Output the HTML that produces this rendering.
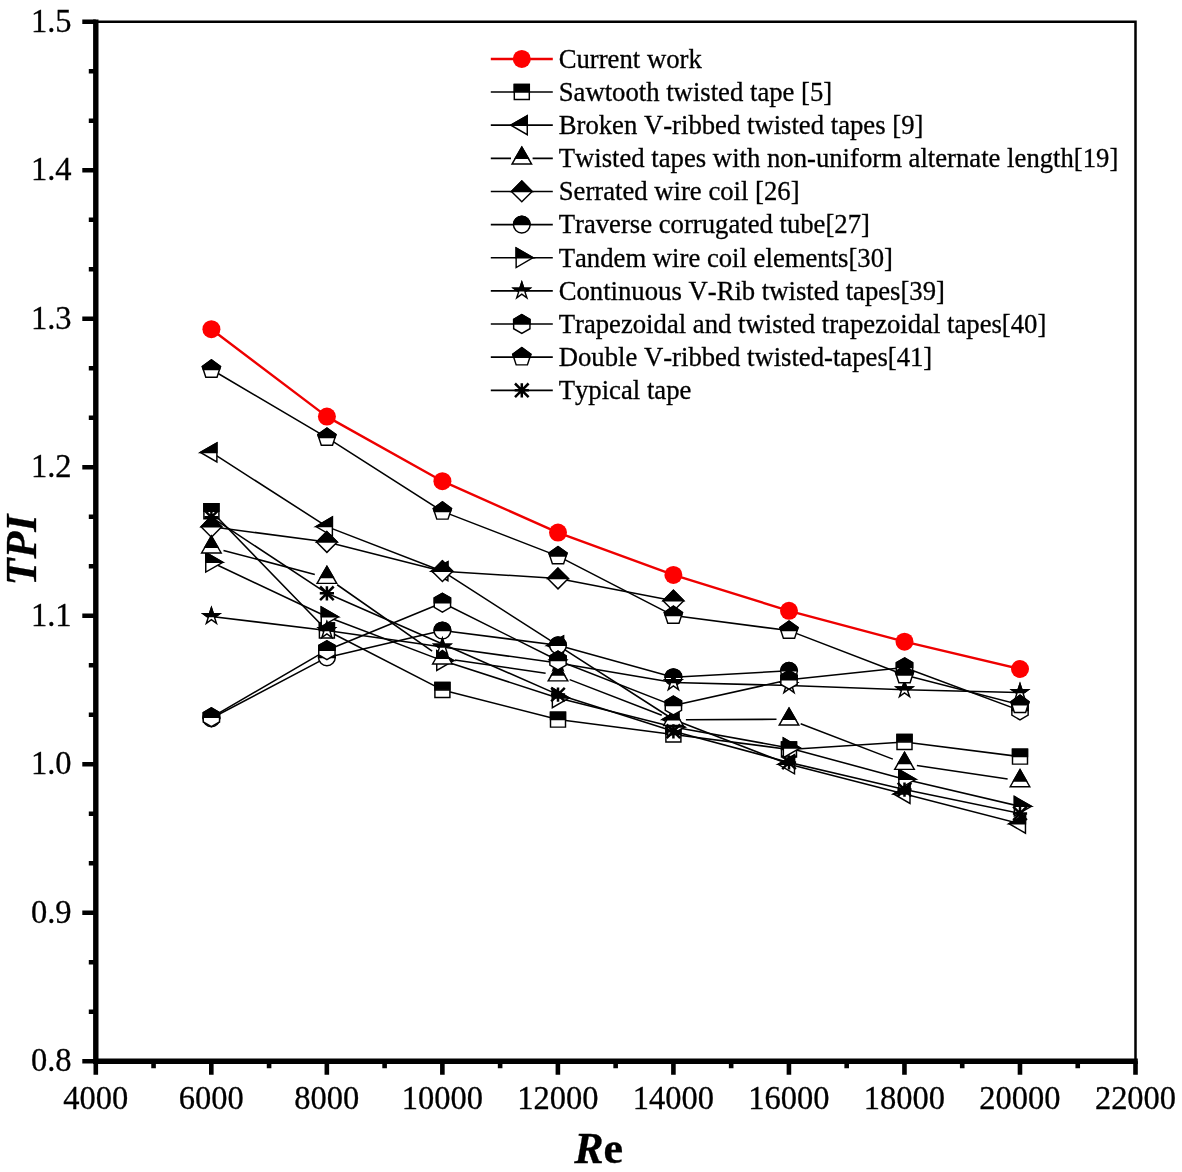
<!DOCTYPE html>
<html lang="en"><head><meta charset="utf-8"><title>TPI vs Re</title>
<style>html,body{margin:0;padding:0;background:#fff;overflow:hidden}svg{display:block;will-change:transform}text{font-kerning:none;stroke:#000;stroke-width:0.3px;paint-order:stroke fill;font-family:"Liberation Serif","Times New Roman",serif;fill:#000}</style>
</head><body>
<svg width="1182" height="1172" viewBox="0 0 1182 1172">
<rect width="1182" height="1172" fill="#fff"/>
<g id="series">
<g>
<polyline points="211.4,329.2 326.9,416.6 442.4,481.2 558,532.6 673.4,574.9 789,610.8 904.5,641.7 1020,669" fill="none" stroke="#ee0000" stroke-width="2.4" stroke-linejoin="round"/>
<circle cx="211.4" cy="329.2" r="9.0" fill="#fe0000"/>
<circle cx="326.9" cy="416.6" r="9.0" fill="#fe0000"/>
<circle cx="442.4" cy="481.2" r="9.0" fill="#fe0000"/>
<circle cx="558" cy="532.6" r="9.0" fill="#fe0000"/>
<circle cx="673.4" cy="574.9" r="9.0" fill="#fe0000"/>
<circle cx="789" cy="610.8" r="9.0" fill="#fe0000"/>
<circle cx="904.5" cy="641.7" r="9.0" fill="#fe0000"/>
<circle cx="1020" cy="669" r="9.0" fill="#fe0000"/>
</g>
<g>
<polyline points="211.4,511.3 326.9,630.5 442.4,689.9 558,719.6 673.4,734.4 789,749.4 904.5,741.9 1020,756.6" fill="none" stroke="#000" stroke-width="1.55" stroke-linejoin="round"/>
<polygon points="203.9,503.8 218.9,503.8 218.9,518.8 203.9,518.8" fill="#fff" stroke="#000" stroke-width="1.45"/>
<polygon points="203.9,503.8 218.9,503.8 218.9,511.3 203.9,511.3" fill="#000" stroke="#000" stroke-width="1.45"/>
<polygon points="319.4,623 334.4,623 334.4,638 319.4,638" fill="#fff" stroke="#000" stroke-width="1.45"/>
<polygon points="319.4,623 334.4,623 334.4,630.5 319.4,630.5" fill="#000" stroke="#000" stroke-width="1.45"/>
<polygon points="434.9,682.4 449.9,682.4 449.9,697.4 434.9,697.4" fill="#fff" stroke="#000" stroke-width="1.45"/>
<polygon points="434.9,682.4 449.9,682.4 449.9,689.9 434.9,689.9" fill="#000" stroke="#000" stroke-width="1.45"/>
<polygon points="550.5,712.1 565.5,712.1 565.5,727.1 550.5,727.1" fill="#fff" stroke="#000" stroke-width="1.45"/>
<polygon points="550.5,712.1 565.5,712.1 565.5,719.6 550.5,719.6" fill="#000" stroke="#000" stroke-width="1.45"/>
<polygon points="665.9,726.9 680.9,726.9 680.9,741.9 665.9,741.9" fill="#fff" stroke="#000" stroke-width="1.45"/>
<polygon points="665.9,726.9 680.9,726.9 680.9,734.4 665.9,734.4" fill="#000" stroke="#000" stroke-width="1.45"/>
<polygon points="781.5,741.9 796.5,741.9 796.5,756.9 781.5,756.9" fill="#fff" stroke="#000" stroke-width="1.45"/>
<polygon points="781.5,741.9 796.5,741.9 796.5,749.4 781.5,749.4" fill="#000" stroke="#000" stroke-width="1.45"/>
<polygon points="897,734.4 912,734.4 912,749.4 897,749.4" fill="#fff" stroke="#000" stroke-width="1.45"/>
<polygon points="897,734.4 912,734.4 912,741.9 897,741.9" fill="#000" stroke="#000" stroke-width="1.45"/>
<polygon points="1012.5,749.1 1027.5,749.1 1027.5,764.1 1012.5,764.1" fill="#fff" stroke="#000" stroke-width="1.45"/>
<polygon points="1012.5,749.1 1027.5,749.1 1027.5,756.6 1012.5,756.6" fill="#000" stroke="#000" stroke-width="1.45"/>
</g>
<g>
<polyline points="211.4,452.4 326.9,526.6 442.4,571.2 558,645.4 673.4,719.5 789,764.3 904.5,794 1020,823.7" fill="none" stroke="#000" stroke-width="1.55" stroke-linejoin="round"/>
<polygon points="200.45,452.4 216.88,442.92 216.88,461.88" fill="#fff" stroke="#000" stroke-width="1.45"/>
<polygon points="200.45,452.4 216.88,442.92 216.88,452.4 200.45,452.4" fill="#000" stroke="#000" stroke-width="1.45"/>
<polygon points="315.95,526.6 332.38,517.12 332.38,536.08" fill="#fff" stroke="#000" stroke-width="1.45"/>
<polygon points="315.95,526.6 332.38,517.12 332.38,526.6 315.95,526.6" fill="#000" stroke="#000" stroke-width="1.45"/>
<polygon points="431.45,571.2 447.88,561.72 447.88,580.68" fill="#fff" stroke="#000" stroke-width="1.45"/>
<polygon points="431.45,571.2 447.88,561.72 447.88,571.2 431.45,571.2" fill="#000" stroke="#000" stroke-width="1.45"/>
<polygon points="547.05,645.4 563.48,635.92 563.48,654.88" fill="#fff" stroke="#000" stroke-width="1.45"/>
<polygon points="547.05,645.4 563.48,635.92 563.48,645.4 547.05,645.4" fill="#000" stroke="#000" stroke-width="1.45"/>
<polygon points="662.45,719.5 678.88,710.02 678.88,728.98" fill="#fff" stroke="#000" stroke-width="1.45"/>
<polygon points="662.45,719.5 678.88,710.02 678.88,719.5 662.45,719.5" fill="#000" stroke="#000" stroke-width="1.45"/>
<polygon points="778.05,764.3 794.48,754.82 794.48,773.78" fill="#fff" stroke="#000" stroke-width="1.45"/>
<polygon points="778.05,764.3 794.48,754.82 794.48,764.3 778.05,764.3" fill="#000" stroke="#000" stroke-width="1.45"/>
<polygon points="893.55,794 909.98,784.52 909.98,803.48" fill="#fff" stroke="#000" stroke-width="1.45"/>
<polygon points="893.55,794 909.98,784.52 909.98,794 893.55,794" fill="#000" stroke="#000" stroke-width="1.45"/>
<polygon points="1009.05,823.7 1025.47,814.22 1025.47,833.18" fill="#fff" stroke="#000" stroke-width="1.45"/>
<polygon points="1009.05,823.7 1025.47,814.22 1025.47,823.7 1009.05,823.7" fill="#000" stroke="#000" stroke-width="1.45"/>
</g>
<g>
<polyline points="211.4,526.8 326.9,542 442.4,571.2 558,578.5 673.4,600.7" fill="none" stroke="#000" stroke-width="1.55" stroke-linejoin="round"/>
<polygon points="211.4,516.45 221.75,526.8 211.4,537.15 201.05,526.8" fill="#fff" stroke="#000" stroke-width="1.45"/>
<polygon points="211.4,516.45 221.75,526.8 221.75,526.8 201.05,526.8 201.05,526.8" fill="#000" stroke="#000" stroke-width="1.45"/>
<polygon points="326.9,531.65 337.25,542 326.9,552.35 316.55,542" fill="#fff" stroke="#000" stroke-width="1.45"/>
<polygon points="326.9,531.65 337.25,542 337.25,542 316.55,542 316.55,542" fill="#000" stroke="#000" stroke-width="1.45"/>
<polygon points="442.4,560.85 452.75,571.2 442.4,581.55 432.05,571.2" fill="#fff" stroke="#000" stroke-width="1.45"/>
<polygon points="442.4,560.85 452.75,571.2 452.75,571.2 432.05,571.2 432.05,571.2" fill="#000" stroke="#000" stroke-width="1.45"/>
<polygon points="558,568.15 568.35,578.5 558,588.85 547.65,578.5" fill="#fff" stroke="#000" stroke-width="1.45"/>
<polygon points="558,568.15 568.35,578.5 568.35,578.5 547.65,578.5 547.65,578.5" fill="#000" stroke="#000" stroke-width="1.45"/>
<polygon points="673.4,590.35 683.75,600.7 673.4,611.05 663.05,600.7" fill="#fff" stroke="#000" stroke-width="1.45"/>
<polygon points="673.4,590.35 683.75,600.7 683.75,600.7 663.05,600.7 663.05,600.7" fill="#000" stroke="#000" stroke-width="1.45"/>
</g>
<g>
<polyline points="211.4,718.3 326.9,657.4 442.4,630.5 558,645.3 673.4,677.2 789,670.8" fill="none" stroke="#000" stroke-width="1.55" stroke-linejoin="round"/>
<circle cx="211.4" cy="718.3" r="8.35" fill="#fff" stroke="#000" stroke-width="1.45"/>
<path d="M203.05,718.3 A8.35,8.35 0 0 1 219.75,718.3 Z" fill="#000" stroke="#000" stroke-width="1.45"/>
<circle cx="326.9" cy="657.4" r="8.35" fill="#fff" stroke="#000" stroke-width="1.45"/>
<path d="M318.55,657.4 A8.35,8.35 0 0 1 335.25,657.4 Z" fill="#000" stroke="#000" stroke-width="1.45"/>
<circle cx="442.4" cy="630.5" r="8.35" fill="#fff" stroke="#000" stroke-width="1.45"/>
<path d="M434.05,630.5 A8.35,8.35 0 0 1 450.75,630.5 Z" fill="#000" stroke="#000" stroke-width="1.45"/>
<circle cx="558" cy="645.3" r="8.35" fill="#fff" stroke="#000" stroke-width="1.45"/>
<path d="M549.65,645.3 A8.35,8.35 0 0 1 566.35,645.3 Z" fill="#000" stroke="#000" stroke-width="1.45"/>
<circle cx="673.4" cy="677.2" r="8.35" fill="#fff" stroke="#000" stroke-width="1.45"/>
<path d="M665.05,677.2 A8.35,8.35 0 0 1 681.75,677.2 Z" fill="#000" stroke="#000" stroke-width="1.45"/>
<circle cx="789" cy="670.8" r="8.35" fill="#fff" stroke="#000" stroke-width="1.45"/>
<path d="M780.65,670.8 A8.35,8.35 0 0 1 797.35,670.8 Z" fill="#000" stroke="#000" stroke-width="1.45"/>
</g>
<g>
<polyline points="211.4,562.3 326.9,616.8 442.4,660.6 558,697.9 673.4,727 789,747.9 904.5,779.3 1020,806.3" fill="none" stroke="#000" stroke-width="1.55" stroke-linejoin="round"/>
<polygon points="222.7,562.3 205.75,572.09 205.75,552.51" fill="#fff" stroke="#000" stroke-width="1.45"/>
<polygon points="222.7,562.3 222.7,562.3 205.75,562.3 205.75,552.51" fill="#000" stroke="#000" stroke-width="1.45"/>
<polygon points="338.2,616.8 321.25,626.59 321.25,607.01" fill="#fff" stroke="#000" stroke-width="1.45"/>
<polygon points="338.2,616.8 338.2,616.8 321.25,616.8 321.25,607.01" fill="#000" stroke="#000" stroke-width="1.45"/>
<polygon points="453.7,660.6 436.75,670.39 436.75,650.81" fill="#fff" stroke="#000" stroke-width="1.45"/>
<polygon points="453.7,660.6 453.7,660.6 436.75,660.6 436.75,650.81" fill="#000" stroke="#000" stroke-width="1.45"/>
<polygon points="569.3,697.9 552.35,707.69 552.35,688.11" fill="#fff" stroke="#000" stroke-width="1.45"/>
<polygon points="569.3,697.9 569.3,697.9 552.35,697.9 552.35,688.11" fill="#000" stroke="#000" stroke-width="1.45"/>
<polygon points="684.7,727 667.75,736.79 667.75,717.21" fill="#fff" stroke="#000" stroke-width="1.45"/>
<polygon points="684.7,727 684.7,727 667.75,727 667.75,717.21" fill="#000" stroke="#000" stroke-width="1.45"/>
<polygon points="800.3,747.9 783.35,757.69 783.35,738.11" fill="#fff" stroke="#000" stroke-width="1.45"/>
<polygon points="800.3,747.9 800.3,747.9 783.35,747.9 783.35,738.11" fill="#000" stroke="#000" stroke-width="1.45"/>
<polygon points="915.8,779.3 898.85,789.09 898.85,769.51" fill="#fff" stroke="#000" stroke-width="1.45"/>
<polygon points="915.8,779.3 915.8,779.3 898.85,779.3 898.85,769.51" fill="#000" stroke="#000" stroke-width="1.45"/>
<polygon points="1031.3,806.3 1014.35,816.09 1014.35,796.51" fill="#fff" stroke="#000" stroke-width="1.45"/>
<polygon points="1031.3,806.3 1031.3,806.3 1014.35,806.3 1014.35,796.51" fill="#000" stroke="#000" stroke-width="1.45"/>
</g>
<g>
<path d="M223.49,550.38 L314.81,574.42 M337.15,584.75 L432.15,651.05 M454.77,660.01 L545.63,673.29 M569.66,679.61 L661.74,715.19 M685.9,719.66 L776.5,719.34 M800.67,723.78 L892.83,759.12 M916.86,765.45 L1007.64,779.05" fill="none" stroke="#000" stroke-width="1.55"/>
<polygon points="211.4,536 221.19,552.95 201.61,552.95" fill="#fff" stroke="#000" stroke-width="1.45"/>
<polygon points="211.4,536 217.87,547.2 204.93,547.2" fill="#000" stroke="#000" stroke-width="1.45"/>
<polygon points="326.9,566.4 336.69,583.35 317.11,583.35" fill="#fff" stroke="#000" stroke-width="1.45"/>
<polygon points="326.9,566.4 333.37,577.6 320.43,577.6" fill="#000" stroke="#000" stroke-width="1.45"/>
<polygon points="442.4,647 452.19,663.95 432.61,663.95" fill="#fff" stroke="#000" stroke-width="1.45"/>
<polygon points="442.4,647 448.87,658.2 435.93,658.2" fill="#000" stroke="#000" stroke-width="1.45"/>
<polygon points="558,663.9 567.79,680.85 548.21,680.85" fill="#fff" stroke="#000" stroke-width="1.45"/>
<polygon points="558,663.9 564.47,675.1 551.53,675.1" fill="#000" stroke="#000" stroke-width="1.45"/>
<polygon points="673.4,708.5 683.19,725.45 663.61,725.45" fill="#fff" stroke="#000" stroke-width="1.45"/>
<polygon points="673.4,708.5 679.87,719.7 666.93,719.7" fill="#000" stroke="#000" stroke-width="1.45"/>
<polygon points="789,708.1 798.79,725.05 779.21,725.05" fill="#fff" stroke="#000" stroke-width="1.45"/>
<polygon points="789,708.1 795.47,719.3 782.53,719.3" fill="#000" stroke="#000" stroke-width="1.45"/>
<polygon points="904.5,752.4 914.29,769.35 894.71,769.35" fill="#fff" stroke="#000" stroke-width="1.45"/>
<polygon points="904.5,752.4 910.97,763.6 898.03,763.6" fill="#000" stroke="#000" stroke-width="1.45"/>
<polygon points="1020,769.7 1029.79,786.65 1010.21,786.65" fill="#fff" stroke="#000" stroke-width="1.45"/>
<polygon points="1020,769.7 1026.47,780.9 1013.53,780.9" fill="#000" stroke="#000" stroke-width="1.45"/>
</g>
<g>
<polyline points="211.4,616.4 326.9,630.5 442.4,647 558,663 673.4,682.5 789,685.5 904.5,689.7 1020,692.5" fill="none" stroke="#000" stroke-width="1.55" stroke-linejoin="round"/>
<polygon points="211.4,607.75 213.34,613.73 219.63,613.73 214.54,617.42 216.48,623.4 211.4,619.7 206.32,623.4 208.26,617.42 203.17,613.73 209.46,613.73" fill="#fff" stroke="#000" stroke-width="1.45"/>
<polygon points="211.4,607.75 213.34,613.73 219.63,613.73 215.95,616.4 206.85,616.4 203.17,613.73 209.46,613.73" fill="#000" stroke="#000" stroke-width="1.45"/>
<polygon points="326.9,621.85 328.84,627.83 335.13,627.83 330.04,631.52 331.98,637.5 326.9,633.8 321.82,637.5 323.76,631.52 318.67,627.83 324.96,627.83" fill="#fff" stroke="#000" stroke-width="1.45"/>
<polygon points="326.9,621.85 328.84,627.83 335.13,627.83 331.45,630.5 322.35,630.5 318.67,627.83 324.96,627.83" fill="#000" stroke="#000" stroke-width="1.45"/>
<polygon points="442.4,638.35 444.34,644.33 450.63,644.33 445.54,648.02 447.48,654 442.4,650.3 437.32,654 439.26,648.02 434.17,644.33 440.46,644.33" fill="#fff" stroke="#000" stroke-width="1.45"/>
<polygon points="442.4,638.35 444.34,644.33 450.63,644.33 446.95,647 437.85,647 434.17,644.33 440.46,644.33" fill="#000" stroke="#000" stroke-width="1.45"/>
<polygon points="558,654.35 559.94,660.33 566.23,660.33 561.14,664.02 563.08,670 558,666.3 552.92,670 554.86,664.02 549.77,660.33 556.06,660.33" fill="#fff" stroke="#000" stroke-width="1.45"/>
<polygon points="558,654.35 559.94,660.33 566.23,660.33 562.55,663 553.45,663 549.77,660.33 556.06,660.33" fill="#000" stroke="#000" stroke-width="1.45"/>
<polygon points="673.4,673.85 675.34,679.83 681.63,679.83 676.54,683.52 678.48,689.5 673.4,685.8 668.32,689.5 670.26,683.52 665.17,679.83 671.46,679.83" fill="#fff" stroke="#000" stroke-width="1.45"/>
<polygon points="673.4,673.85 675.34,679.83 681.63,679.83 677.95,682.5 668.85,682.5 665.17,679.83 671.46,679.83" fill="#000" stroke="#000" stroke-width="1.45"/>
<polygon points="789,676.85 790.94,682.83 797.23,682.83 792.14,686.52 794.08,692.5 789,688.8 783.92,692.5 785.86,686.52 780.77,682.83 787.06,682.83" fill="#fff" stroke="#000" stroke-width="1.45"/>
<polygon points="789,676.85 790.94,682.83 797.23,682.83 793.55,685.5 784.45,685.5 780.77,682.83 787.06,682.83" fill="#000" stroke="#000" stroke-width="1.45"/>
<polygon points="904.5,681.05 906.44,687.03 912.73,687.03 907.64,690.72 909.58,696.7 904.5,693 899.42,696.7 901.36,690.72 896.27,687.03 902.56,687.03" fill="#fff" stroke="#000" stroke-width="1.45"/>
<polygon points="904.5,681.05 906.44,687.03 912.73,687.03 909.05,689.7 899.95,689.7 896.27,687.03 902.56,687.03" fill="#000" stroke="#000" stroke-width="1.45"/>
<polygon points="1020,683.85 1021.94,689.83 1028.23,689.83 1023.14,693.52 1025.08,699.5 1020,695.8 1014.92,699.5 1016.86,693.52 1011.77,689.83 1018.06,689.83" fill="#fff" stroke="#000" stroke-width="1.45"/>
<polygon points="1020,683.85 1021.94,689.83 1028.23,689.83 1024.55,692.5 1015.45,692.5 1011.77,689.83 1018.06,689.83" fill="#000" stroke="#000" stroke-width="1.45"/>
</g>
<g>
<polyline points="211.4,717.3 326.9,650.2 442.4,602.7 558,660.5 673.4,705.6 789,679.8 904.5,667.4 1020,710.5" fill="none" stroke="#000" stroke-width="1.55" stroke-linejoin="round"/>
<polygon points="211.4,707.9 219.54,712.6 219.54,722 211.4,726.7 203.26,722 203.26,712.6" fill="#fff" stroke="#000" stroke-width="1.45"/>
<polygon points="211.4,707.9 219.54,712.6 219.54,717.3 203.26,717.3 203.26,712.6" fill="#000" stroke="#000" stroke-width="1.45"/>
<polygon points="326.9,640.8 335.04,645.5 335.04,654.9 326.9,659.6 318.76,654.9 318.76,645.5" fill="#fff" stroke="#000" stroke-width="1.45"/>
<polygon points="326.9,640.8 335.04,645.5 335.04,650.2 318.76,650.2 318.76,645.5" fill="#000" stroke="#000" stroke-width="1.45"/>
<polygon points="442.4,593.3 450.54,598 450.54,607.4 442.4,612.1 434.26,607.4 434.26,598" fill="#fff" stroke="#000" stroke-width="1.45"/>
<polygon points="442.4,593.3 450.54,598 450.54,602.7 434.26,602.7 434.26,598" fill="#000" stroke="#000" stroke-width="1.45"/>
<polygon points="558,651.1 566.14,655.8 566.14,665.2 558,669.9 549.86,665.2 549.86,655.8" fill="#fff" stroke="#000" stroke-width="1.45"/>
<polygon points="558,651.1 566.14,655.8 566.14,660.5 549.86,660.5 549.86,655.8" fill="#000" stroke="#000" stroke-width="1.45"/>
<polygon points="673.4,696.2 681.54,700.9 681.54,710.3 673.4,715 665.26,710.3 665.26,700.9" fill="#fff" stroke="#000" stroke-width="1.45"/>
<polygon points="673.4,696.2 681.54,700.9 681.54,705.6 665.26,705.6 665.26,700.9" fill="#000" stroke="#000" stroke-width="1.45"/>
<polygon points="789,670.4 797.14,675.1 797.14,684.5 789,689.2 780.86,684.5 780.86,675.1" fill="#fff" stroke="#000" stroke-width="1.45"/>
<polygon points="789,670.4 797.14,675.1 797.14,679.8 780.86,679.8 780.86,675.1" fill="#000" stroke="#000" stroke-width="1.45"/>
<polygon points="904.5,658 912.64,662.7 912.64,672.1 904.5,676.8 896.36,672.1 896.36,662.7" fill="#fff" stroke="#000" stroke-width="1.45"/>
<polygon points="904.5,658 912.64,662.7 912.64,667.4 896.36,667.4 896.36,662.7" fill="#000" stroke="#000" stroke-width="1.45"/>
<polygon points="1020,701.1 1028.14,705.8 1028.14,715.2 1020,719.9 1011.86,715.2 1011.86,705.8" fill="#fff" stroke="#000" stroke-width="1.45"/>
<polygon points="1020,701.1 1028.14,705.8 1028.14,710.5 1011.86,710.5 1011.86,705.8" fill="#000" stroke="#000" stroke-width="1.45"/>
</g>
<g>
<polyline points="211.4,369.5 326.9,437.6 442.4,511.4 558,556.1 673.4,615.6 789,630.6 904.5,675 1020,704.7" fill="none" stroke="#000" stroke-width="1.55" stroke-linejoin="round"/>
<polygon points="211.4,359.95 220.48,366.55 217.01,377.23 205.79,377.23 202.32,366.55" fill="#fff" stroke="#000" stroke-width="1.45"/>
<polygon points="211.4,359.95 220.48,366.55 219.52,369.5 203.28,369.5 202.32,366.55" fill="#000" stroke="#000" stroke-width="1.45"/>
<polygon points="326.9,428.05 335.98,434.65 332.51,445.33 321.29,445.33 317.82,434.65" fill="#fff" stroke="#000" stroke-width="1.45"/>
<polygon points="326.9,428.05 335.98,434.65 335.02,437.6 318.78,437.6 317.82,434.65" fill="#000" stroke="#000" stroke-width="1.45"/>
<polygon points="442.4,501.85 451.48,508.45 448.01,519.13 436.79,519.13 433.32,508.45" fill="#fff" stroke="#000" stroke-width="1.45"/>
<polygon points="442.4,501.85 451.48,508.45 450.52,511.4 434.28,511.4 433.32,508.45" fill="#000" stroke="#000" stroke-width="1.45"/>
<polygon points="558,546.55 567.08,553.15 563.61,563.83 552.39,563.83 548.92,553.15" fill="#fff" stroke="#000" stroke-width="1.45"/>
<polygon points="558,546.55 567.08,553.15 566.12,556.1 549.88,556.1 548.92,553.15" fill="#000" stroke="#000" stroke-width="1.45"/>
<polygon points="673.4,606.05 682.48,612.65 679.01,623.33 667.79,623.33 664.32,612.65" fill="#fff" stroke="#000" stroke-width="1.45"/>
<polygon points="673.4,606.05 682.48,612.65 681.52,615.6 665.28,615.6 664.32,612.65" fill="#000" stroke="#000" stroke-width="1.45"/>
<polygon points="789,621.05 798.08,627.65 794.61,638.33 783.39,638.33 779.92,627.65" fill="#fff" stroke="#000" stroke-width="1.45"/>
<polygon points="789,621.05 798.08,627.65 797.12,630.6 780.88,630.6 779.92,627.65" fill="#000" stroke="#000" stroke-width="1.45"/>
<polygon points="904.5,665.45 913.58,672.05 910.11,682.73 898.89,682.73 895.42,672.05" fill="#fff" stroke="#000" stroke-width="1.45"/>
<polygon points="904.5,665.45 913.58,672.05 912.62,675 896.38,675 895.42,672.05" fill="#000" stroke="#000" stroke-width="1.45"/>
<polygon points="1020,695.15 1029.08,701.75 1025.61,712.43 1014.39,712.43 1010.92,701.75" fill="#fff" stroke="#000" stroke-width="1.45"/>
<polygon points="1020,695.15 1029.08,701.75 1028.12,704.7 1011.88,704.7 1010.92,701.75" fill="#000" stroke="#000" stroke-width="1.45"/>
</g>
<g>
<polyline points="211.4,517.2 326.9,593.3 558,694.6 673.4,731.3 789,762.4 904.5,789.6 1020,813.4" fill="none" stroke="#000" stroke-width="1.55" stroke-linejoin="round"/>
<path d="M211.4,510.1 V524.3 M204.3,517.2 H218.5 M204.6,510.4 L218.2,524 M204.6,524 L218.2,510.4" stroke="#000" stroke-width="2.5" fill="none"/>
<path d="M326.9,586.2 V600.4 M319.8,593.3 H334 M320.1,586.5 L333.7,600.1 M320.1,600.1 L333.7,586.5" stroke="#000" stroke-width="2.5" fill="none"/>
<path d="M558,687.5 V701.7 M550.9,694.6 H565.1 M551.2,687.8 L564.8,701.4 M551.2,701.4 L564.8,687.8" stroke="#000" stroke-width="2.5" fill="none"/>
<path d="M673.4,724.2 V738.4 M666.3,731.3 H680.5 M666.6,724.5 L680.2,738.1 M666.6,738.1 L680.2,724.5" stroke="#000" stroke-width="2.5" fill="none"/>
<path d="M789,755.3 V769.5 M781.9,762.4 H796.1 M782.2,755.6 L795.8,769.2 M782.2,769.2 L795.8,755.6" stroke="#000" stroke-width="2.5" fill="none"/>
<path d="M904.5,782.5 V796.7 M897.4,789.6 H911.6 M897.7,782.8 L911.3,796.4 M897.7,796.4 L911.3,782.8" stroke="#000" stroke-width="2.5" fill="none"/>
<path d="M1020,806.3 V820.5 M1012.9,813.4 H1027.1 M1013.2,806.6 L1026.8,820.2 M1013.2,820.2 L1026.8,806.6" stroke="#000" stroke-width="2.5" fill="none"/>
</g>
</g>
<g id="axes" stroke="#000" fill="none">
<path d="M95.8,21.7 H1135.5 V1061.2" stroke-width="2.5"/>
<path d="M95.8,19.4 V1063.9 M93.1,1061.2 H1137.8" stroke-width="5.4"/>
<path d="M95.8,21.7 H82.3 M95.8,71.2 H88.8 M95.8,120.7 H88.8 M95.8,170.2 H82.3 M95.8,219.7 H88.8 M95.8,269.2 H88.8 M95.8,318.7 H82.3 M95.8,368.2 H88.8 M95.8,417.7 H88.8 M95.8,467.2 H82.3 M95.8,516.7 H88.8 M95.8,566.2 H88.8 M95.8,615.7 H82.3 M95.8,665.2 H88.8 M95.8,714.7 H88.8 M95.8,764.2 H82.3 M95.8,813.7 H88.8 M95.8,863.2 H88.8 M95.8,912.7 H82.3 M95.8,962.2 H88.8 M95.8,1011.7 H88.8 M95.8,1061.2 H82.3 M95.8,1061.2 V1074.7 M153.56,1061.2 V1068.2 M211.32,1061.2 V1074.7 M269.08,1061.2 V1068.2 M326.84,1061.2 V1074.7 M384.61,1061.2 V1068.2 M442.37,1061.2 V1074.7 M500.13,1061.2 V1068.2 M557.89,1061.2 V1074.7 M615.65,1061.2 V1068.2 M673.41,1061.2 V1074.7 M731.17,1061.2 V1068.2 M788.93,1061.2 V1074.7 M846.69,1061.2 V1068.2 M904.46,1061.2 V1074.7 M962.22,1061.2 V1068.2 M1019.98,1061.2 V1074.7 M1077.74,1061.2 V1068.2 M1135.5,1061.2 V1074.7" stroke-width="4.6"/>
</g>
<g id="ticklabels" font-size="32.5">
<text transform="translate(71.6,31.6) scale(1,1.04)" text-anchor="end">1.5</text>
<text transform="translate(71.6,180.1) scale(1,1.04)" text-anchor="end">1.4</text>
<text transform="translate(71.6,328.6) scale(1,1.04)" text-anchor="end">1.3</text>
<text transform="translate(71.6,477.1) scale(1,1.04)" text-anchor="end">1.2</text>
<text transform="translate(71.6,625.6) scale(1,1.04)" text-anchor="end">1.1</text>
<text transform="translate(71.6,774.1) scale(1,1.04)" text-anchor="end">1.0</text>
<text transform="translate(71.6,922.6) scale(1,1.04)" text-anchor="end">0.9</text>
<text transform="translate(71.6,1071.1) scale(1,1.04)" text-anchor="end">0.8</text>
<text transform="translate(95.8,1109.4) scale(1,1.03)" text-anchor="middle">4000</text>
<text transform="translate(211.32,1109.4) scale(1,1.03)" text-anchor="middle">6000</text>
<text transform="translate(326.84,1109.4) scale(1,1.03)" text-anchor="middle">8000</text>
<text transform="translate(442.37,1109.4) scale(1,1.03)" text-anchor="middle">10000</text>
<text transform="translate(557.89,1109.4) scale(1,1.03)" text-anchor="middle">12000</text>
<text transform="translate(673.41,1109.4) scale(1,1.03)" text-anchor="middle">14000</text>
<text transform="translate(788.93,1109.4) scale(1,1.03)" text-anchor="middle">16000</text>
<text transform="translate(904.46,1109.4) scale(1,1.03)" text-anchor="middle">18000</text>
<text transform="translate(1019.98,1109.4) scale(1,1.03)" text-anchor="middle">20000</text>
<text transform="translate(1135.5,1109.4) scale(1,1.03)" text-anchor="middle">22000</text>
</g>
<text x="598.7" y="1162.6" text-anchor="middle" font-size="44" font-weight="bold"><tspan font-style="italic">R</tspan>e</text>
<text transform="translate(35.8,550) rotate(-90)" text-anchor="middle" font-size="44" font-weight="bold" font-style="italic">TPI</text>
<g id="legend">
<path d="M490.8,58.9 H552.8" stroke="#ee0000" stroke-width="2.45"/>
<circle cx="521.8" cy="58.9" r="9.0" fill="#fe0000"/>
<text transform="translate(558.7,67.7) scale(1,1.03)" font-size="26.7">Current work</text>
<path d="M490.8,92.04 H552.8" stroke="#000" stroke-width="1.65"/>
<polygon points="514.3,84.54 529.3,84.54 529.3,99.54 514.3,99.54" fill="#fff" stroke="#000" stroke-width="1.45"/>
<polygon points="514.3,84.54 529.3,84.54 529.3,92.04 514.3,92.04" fill="#000" stroke="#000" stroke-width="1.45"/>
<text transform="translate(558.7,100.84) scale(1,1.03)" font-size="26.7">Sawtooth twisted tape [5]</text>
<path d="M490.8,125.18 H552.8" stroke="#000" stroke-width="1.65"/>
<polygon points="510.85,125.18 527.27,115.7 527.27,134.66" fill="#fff" stroke="#000" stroke-width="1.45"/>
<polygon points="510.85,125.18 527.27,115.7 527.27,125.18 510.85,125.18" fill="#000" stroke="#000" stroke-width="1.45"/>
<text transform="translate(558.7,133.98) scale(1,1.03)" font-size="26.7">Broken V-ribbed twisted tapes [9]</text>
<path d="M490.8,158.32 H511 M532.6,158.32 H552.8" stroke="#000" stroke-width="1.65"/>
<polygon points="521.8,147.12 531.59,164.07 512.01,164.07" fill="#fff" stroke="#000" stroke-width="1.45"/>
<polygon points="521.8,147.12 528.27,158.32 515.33,158.32" fill="#000" stroke="#000" stroke-width="1.45"/>
<text transform="translate(558.7,167.12) scale(1,1.03)" font-size="26.7">Twisted tapes with non-uniform alternate length[19]</text>
<path d="M490.8,191.46 H552.8" stroke="#000" stroke-width="1.65"/>
<polygon points="521.8,181.11 532.15,191.46 521.8,201.81 511.45,191.46" fill="#fff" stroke="#000" stroke-width="1.45"/>
<polygon points="521.8,181.11 532.15,191.46 532.15,191.46 511.45,191.46 511.45,191.46" fill="#000" stroke="#000" stroke-width="1.45"/>
<text transform="translate(558.7,200.26) scale(1,1.03)" font-size="26.7">Serrated wire coil [26]</text>
<path d="M490.8,224.6 H552.8" stroke="#000" stroke-width="1.65"/>
<circle cx="521.8" cy="224.6" r="8.35" fill="#fff" stroke="#000" stroke-width="1.45"/>
<path d="M513.45,224.6 A8.35,8.35 0 0 1 530.15,224.6 Z" fill="#000" stroke="#000" stroke-width="1.45"/>
<text transform="translate(558.7,233.4) scale(1,1.03)" font-size="26.7">Traverse corrugated tube[27]</text>
<path d="M490.8,257.74 H552.8" stroke="#000" stroke-width="1.65"/>
<polygon points="533.1,257.74 516.15,267.53 516.15,247.95" fill="#fff" stroke="#000" stroke-width="1.45"/>
<polygon points="533.1,257.74 533.1,257.74 516.15,257.74 516.15,247.95" fill="#000" stroke="#000" stroke-width="1.45"/>
<text transform="translate(558.7,266.54) scale(1,1.03)" font-size="26.7">Tandem wire coil elements[30]</text>
<path d="M490.8,290.88 H552.8" stroke="#000" stroke-width="1.65"/>
<polygon points="521.8,282.23 523.74,288.21 530.03,288.21 524.94,291.9 526.88,297.88 521.8,294.18 516.72,297.88 518.66,291.9 513.57,288.21 519.86,288.21" fill="#fff" stroke="#000" stroke-width="1.45"/>
<polygon points="521.8,282.23 523.74,288.21 530.03,288.21 526.35,290.88 517.25,290.88 513.57,288.21 519.86,288.21" fill="#000" stroke="#000" stroke-width="1.45"/>
<text transform="translate(558.7,299.68) scale(1,1.03)" font-size="26.7">Continuous V-Rib twisted tapes[39]</text>
<path d="M490.8,324.02 H552.8" stroke="#000" stroke-width="1.65"/>
<polygon points="521.8,314.62 529.94,319.32 529.94,328.72 521.8,333.42 513.66,328.72 513.66,319.32" fill="#fff" stroke="#000" stroke-width="1.45"/>
<polygon points="521.8,314.62 529.94,319.32 529.94,324.02 513.66,324.02 513.66,319.32" fill="#000" stroke="#000" stroke-width="1.45"/>
<text transform="translate(558.7,332.82) scale(1,1.03)" font-size="26.7">Trapezoidal and twisted trapezoidal tapes[40]</text>
<path d="M490.8,357.16 H552.8" stroke="#000" stroke-width="1.65"/>
<polygon points="521.8,347.61 530.88,354.21 527.41,364.89 516.19,364.89 512.72,354.21" fill="#fff" stroke="#000" stroke-width="1.45"/>
<polygon points="521.8,347.61 530.88,354.21 529.92,357.16 513.68,357.16 512.72,354.21" fill="#000" stroke="#000" stroke-width="1.45"/>
<text transform="translate(558.7,365.96) scale(1,1.03)" font-size="26.7">Double V-ribbed twisted-tapes[41]</text>
<path d="M490.8,390.3 H552.8" stroke="#000" stroke-width="1.65"/>
<path d="M521.8,383.2 V397.4 M514.7,390.3 H528.9 M515,383.5 L528.6,397.1 M515,397.1 L528.6,383.5" stroke="#000" stroke-width="2.5" fill="none"/>
<text transform="translate(558.7,399.1) scale(1,1.03)" font-size="26.7">Typical tape</text>
</g>
</svg>
</body></html>
